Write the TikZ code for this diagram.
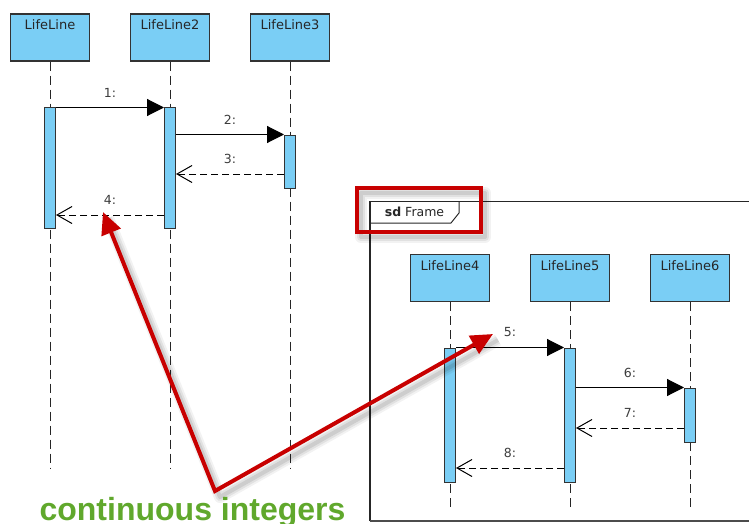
\documentclass[tikz,border=0pt]{standalone}
\usepackage{fontspec}
\setmainfont{DejaVu Sans}
\newfontfamily\armfont{Liberation Sans}
\usetikzlibrary{arrows.meta,calc}
\definecolor{lifeblue}{RGB}{122,206,245}
\definecolor{hired}{RGB}{200,0,0}
\definecolor{txtgreen}{RGB}{96,168,44}
\definecolor{lblgray}{RGB}{60,60,60}
\tikzset{
  lifebox/.style={draw=black!80, line width=1.1pt, fill=lifeblue, minimum width=79pt, minimum height=47pt, inner sep=0pt},
  lifetext/.style={font=\fontsize{13}{15}\selectfont, text=black!85},
  lifeline/.style={draw=black!85, line width=1pt, dash pattern=on 9pt off 5pt},
  actbar/.style={draw=black!80, line width=1pt, fill=lifeblue, minimum width=11pt, inner sep=0pt},
  syncmsg/.style={draw=black, line width=1.1pt, -{Triangle[length=17pt,width=17pt]}},
  replymsg/.style={draw=black, line width=1pt, dash pattern=on 7pt off 4pt, -{Straight Barb[length=15pt,width=17pt,line width=1pt]}},
  msglabel/.style={font=\fontsize{12.5}{14}\selectfont, text=lblgray, midway, yshift=15pt},
  redline/.style={draw=hired, line width=4pt},
  shadowA/.style={draw=black, opacity=0.05, line width=12pt, line join=round},
  shadowB/.style={draw=black, opacity=0.07, line width=8pt, line join=round},
  shadowC/.style={draw=black, opacity=0.09, line width=4pt, line join=round},
}
\begin{document}
\begin{tikzpicture}[x=1pt,y=-1pt]
\useasboundingbox (0,0) rectangle (749,524);
% top lifeline boxes
\node[lifebox, label={[lifetext, anchor=north, inner sep=6pt]north:LifeLine}] (L1) at (50,37.5) {};
\node[lifebox, label={[lifetext, anchor=north, inner sep=6pt]north:LifeLine2}] (L2) at (170,37.5) {};
\node[lifebox, label={[lifetext, anchor=north, inner sep=6pt]north:LifeLine3}] (L3) at (290,37.5) {};
\coordinate (E1) at (50,468);
\coordinate (E2) at (170,468);
\coordinate (E3) at (290,468);
\draw[lifeline] (L1.south) -- (E1);
\draw[lifeline] (L2.south) -- (E2);
\draw[lifeline] (L3.south) -- (E3);
% frame
\draw[black!85, line width=1.2pt] (370,521) -- (370,201.5) -- (760,201.5);
\draw[black!70, line width=2.5pt] (370,521) -- (760,521);
\draw[black!85, line width=1pt] (370,223) -- (451,223) -- (459,213) -- (459,201.5);
\node[font=\fontsize{12.5}{14}\selectfont, text=black!85] (ftab) at (414.5,212) {\textbf{sd} Frame};
% frame lifeline boxes
\node[lifebox, label={[lifetext, anchor=north, inner sep=6pt]north:LifeLine4}] (L4) at (450,278) {};
\node[lifebox, label={[lifetext, anchor=north, inner sep=6pt]north:LifeLine5}] (L5) at (570,278) {};
\node[lifebox, label={[lifetext, anchor=north, inner sep=6pt]north:LifeLine6}] (L6) at (690,278) {};
\coordinate (E4) at (450,508);
\coordinate (E5) at (570,508);
\coordinate (E6) at (690,508);
\draw[lifeline] (L4.south) -- (E4);
\draw[lifeline] (L5.south) -- (E5);
\draw[lifeline] (L6.south) -- (E6);
% activation bars
\node[actbar, minimum height=120pt] (A1) at (50,168) {};
\node[actbar, minimum height=120pt] (A2) at (170,168) {};
\node[actbar, minimum height=53pt] (A3) at (290,161.5) {};
\node[actbar, minimum height=134pt] (A4) at (450,415) {};
\node[actbar, minimum height=134pt] (A5) at (570,415) {};
\node[actbar, minimum height=54pt] (A6) at (690,415) {};
% messages
\draw[syncmsg] (A1.north east) -- node[msglabel] {1:} (A2.north west);
\draw[syncmsg] (A2.east |- A3.north) -- node[msglabel] {2:} (A3.north west);
\draw[replymsg] (A3.west |- 0,174) -- node[msglabel] {3:} (A2.east |- 0,174);
\draw[replymsg] (A2.west |- 0,215) -- node[msglabel] {4:} (A1.east |- 0,215);
\draw[syncmsg] (A4.north east) -- node[msglabel] {5:} (A5.north west);
\draw[syncmsg] (A5.east |- A6.north) -- node[msglabel] {6:} (A6.north west);
\draw[replymsg] (A6.west |- 0,428) -- node[msglabel] {7:} (A5.east |- 0,428);
\draw[replymsg] (A5.west |- 0,468) -- node[msglabel] {8:} (A4.east |- 0,468);
% red highlight
\foreach \s in {shadowA,shadowB,shadowC}
  \draw[\s] (361,193) rectangle (485,237);
\draw[redline, line width=3.5pt] (357,188) rectangle (481,232);
% red arrows
\coordinate (T1) at (103,212);
\coordinate (V) at (215,491);
\coordinate (T2) at (493,334);
\foreach \s in {shadowA,shadowB,shadowC}
  \draw[\s] ([shift={(5,6)}]T1) -- ([shift={(5,6)}]V) -- ([shift={(5,6)}]T2);
\draw[redline, line join=miter, {Triangle[length=22pt,width=20pt]}-{Triangle[length=22pt,width=20pt]}] (T1) -- (V) -- (T2);
% caption
\node[font=\armfont\fontsize{32}{34}\selectfont\bfseries, text=txtgreen, anchor=base, inner sep=0pt] (cap) at (192.5,520) {continuous integers};
\end{tikzpicture}
\end{document}
